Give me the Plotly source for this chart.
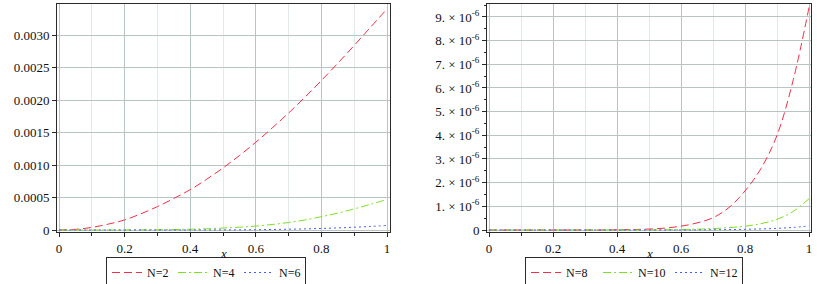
import plotly.graph_objects as go

# ---------------- data ----------------
x_vals = [i * 0.05 for i in range(21)]

# left panel values (units of 1e-3)
left_scale = 1e-3
n2 = [0, 0.01, 0.04, 0.09, 0.155, 0.25, 0.36, 0.485, 0.62, 0.78, 0.955,
      1.145, 1.35, 1.57, 1.80, 2.045, 2.30, 2.565, 2.84, 3.12, 3.40]
n4 = [0, 0, 0, 0, 0.001, 0.002, 0.004, 0.007, 0.012, 0.019, 0.03,
      0.043, 0.06, 0.085, 0.115, 0.155, 0.205, 0.26, 0.325, 0.395, 0.47]
n6 = [0, 0, 0, 0, 0, 0, 0, 0, 0.001, 0.001, 0.002,
      0.003, 0.005, 0.008, 0.012, 0.017, 0.024, 0.032, 0.043, 0.055, 0.07]

# right panel values (units of 1e-6)
right_scale = 1e-6
n8 = [0, 0, 0, 0, 0, 0, 0, 0.001, 0.01, 0.02, 0.04,
      0.08, 0.16, 0.3, 0.52, 0.95, 1.65, 2.6, 4.0, 6.3, 9.4]
n10 = [0, 0, 0, 0, 0, 0, 0, 0, 0, 0, 0.005,
       0.01, 0.02, 0.035, 0.06, 0.1, 0.16, 0.27, 0.45, 0.78, 1.32]
n12 = [0, 0, 0, 0, 0, 0, 0, 0, 0, 0, 0,
       0, 0, 0.005, 0.01, 0.018, 0.03, 0.045, 0.07, 0.11, 0.17]

x_tickvals = [0, 0.2, 0.4, 0.6, 0.8, 1]
x_ticktext = ["0", "0.2", "0.4", "0.6", "0.8", "1"]
left_ytickvals = [0, 0.0005, 0.0010, 0.0015, 0.0020, 0.0025, 0.0030]
left_yticktext = ["0", "0.0005", "0.0010", "0.0015", "0.0020", "0.0025", "0.0030"]
right_ytickvals = [k * 1e-6 for k in range(10)]
right_yticktext = ["0"] + [f"{k}. \u00d7 10<sup>-6</sup>" for k in range(1, 10)]

# ---------------- styling ----------------
W, H = 817, 284
FONT = "Liberation Serif, Times New Roman, serif"
FS = 13
RED, GREEN, BLUE = "#f0304a", "#7ee020", "#4a5cf0"
MAJOR_GRID, MINOR_GRID, AXIS = "#b9c4c4", "#e3e8e8", "#2a2a2a"
DASH_RED = "8px,4px"
DASH_GREEN = "8px,3px,2px,3px"
DASH_BLUE = "2px,3px"

def px(v):
    return v / W

def py(v):
    return 1 - v / H

fig = go.Figure()

def add(xs, ys, scale, name, color, dash, xa, ya, leg):
    fig.add_trace(go.Scatter(
        x=xs, y=[v * scale for v in ys], mode="lines", name=name,
        line=dict(color=color, width=1, dash=dash, shape="spline"),
        xaxis=xa, yaxis=ya, legend=leg))

add(x_vals, n2, left_scale, "N=2", RED, DASH_RED, "x", "y", "legend")
add(x_vals, n4, left_scale, "N=4", GREEN, DASH_GREEN, "x", "y", "legend")
add(x_vals, n6, left_scale, "N=6", BLUE, DASH_BLUE, "x", "y", "legend")
add(x_vals, n8, right_scale, "N=8", RED, DASH_RED, "x2", "y2", "legend2")
add(x_vals, n10, right_scale, "N=10", GREEN, DASH_GREEN, "x2", "y2", "legend2")
add(x_vals, n12, right_scale, "N=12", BLUE, DASH_BLUE, "x2", "y2", "legend2")

y_dom = [py(232), py(4)]

def xaxis(dom, rng, anchor):
    return dict(domain=dom, range=rng, anchor=anchor, automargin=False,
                tickvals=x_tickvals, ticktext=x_ticktext,
                showline=True, linecolor=AXIS, linewidth=1, mirror=True,
                ticks="outside", ticklen=4, tickcolor=AXIS,
                showgrid=True, gridcolor=MAJOR_GRID, gridwidth=1,
                minor=dict(dtick=0.1, tick0=0, showgrid=True, gridcolor=MINOR_GRID,
                           ticks="outside", ticklen=3, tickcolor=AXIS),
                zeroline=False,
                tickfont=dict(size=FS, family=FONT, color="#111"))

def yaxis(rng, tv, tt, anchor, minor_ticks):
    d = dict(domain=y_dom, range=rng, anchor=anchor, automargin=False,
             tickvals=tv, ticktext=tt,
             showline=True, linecolor=AXIS, linewidth=1, mirror=True,
             ticks="outside", ticklen=4, tickcolor=AXIS,
             showgrid=True, gridcolor=MAJOR_GRID, gridwidth=1,
             zeroline=False,
             tickfont=dict(size=FS, family=FONT, color="#111"))
    if minor_ticks:
        d["minor"] = dict(dtick=minor_ticks, tick0=0, showgrid=False,
                          ticks="outside", ticklen=2, tickcolor=AXIS)
    return d

legend_common = dict(orientation="h", yanchor="top", xanchor="left",
                     bordercolor=AXIS, borderwidth=1, bgcolor="white",
                     font=dict(size=12, family=FONT, color="#111"),
                     itemwidth=30, tracegroupgap=0)

fig.update_layout(
    width=W, height=H,
    margin=dict(l=0, r=0, t=0, b=0, autoexpand=False),
    paper_bgcolor="white", plot_bgcolor="white",
    font=dict(family=FONT, size=FS, color="#111"),
    xaxis=xaxis([px(57), px(390)], [-2 / 328, 1 + 3 / 328], "y"),
    yaxis=yaxis([-2 / 65000, 226 / 65000], left_ytickvals, left_yticktext, "x", None),
    xaxis2=xaxis([px(487), px(811)], [-2 / 320, 1 + 2 / 320], "y2"),
    yaxis2=yaxis([-2 / 23.67e6, 226 / 23.67e6], right_ytickvals, right_yticktext, "x2", 0.5e-6),
    legend=dict(x=px(106), y=py(257), entrywidth=21, **legend_common),
    legend2=dict(x=px(525), y=py(257), entrywidth=27, **legend_common),
    showlegend=True,
)

# italic axis titles "x", placed just under the tick labels
for xr in ("x domain", "x2 domain"):
    fig.add_annotation(text="<i>x</i>", xref=xr, yref="paper", x=0.5, y=py(253),
                       showarrow=False, yanchor="middle",
                       font=dict(size=FS, family=FONT, color="#111"))

# remove the browser's default 8px body margin so the figure sits at the page origin
fig.write_html("out.html", config={"displayModeBar": False},
               post_script="document.body.style.margin='0';")
